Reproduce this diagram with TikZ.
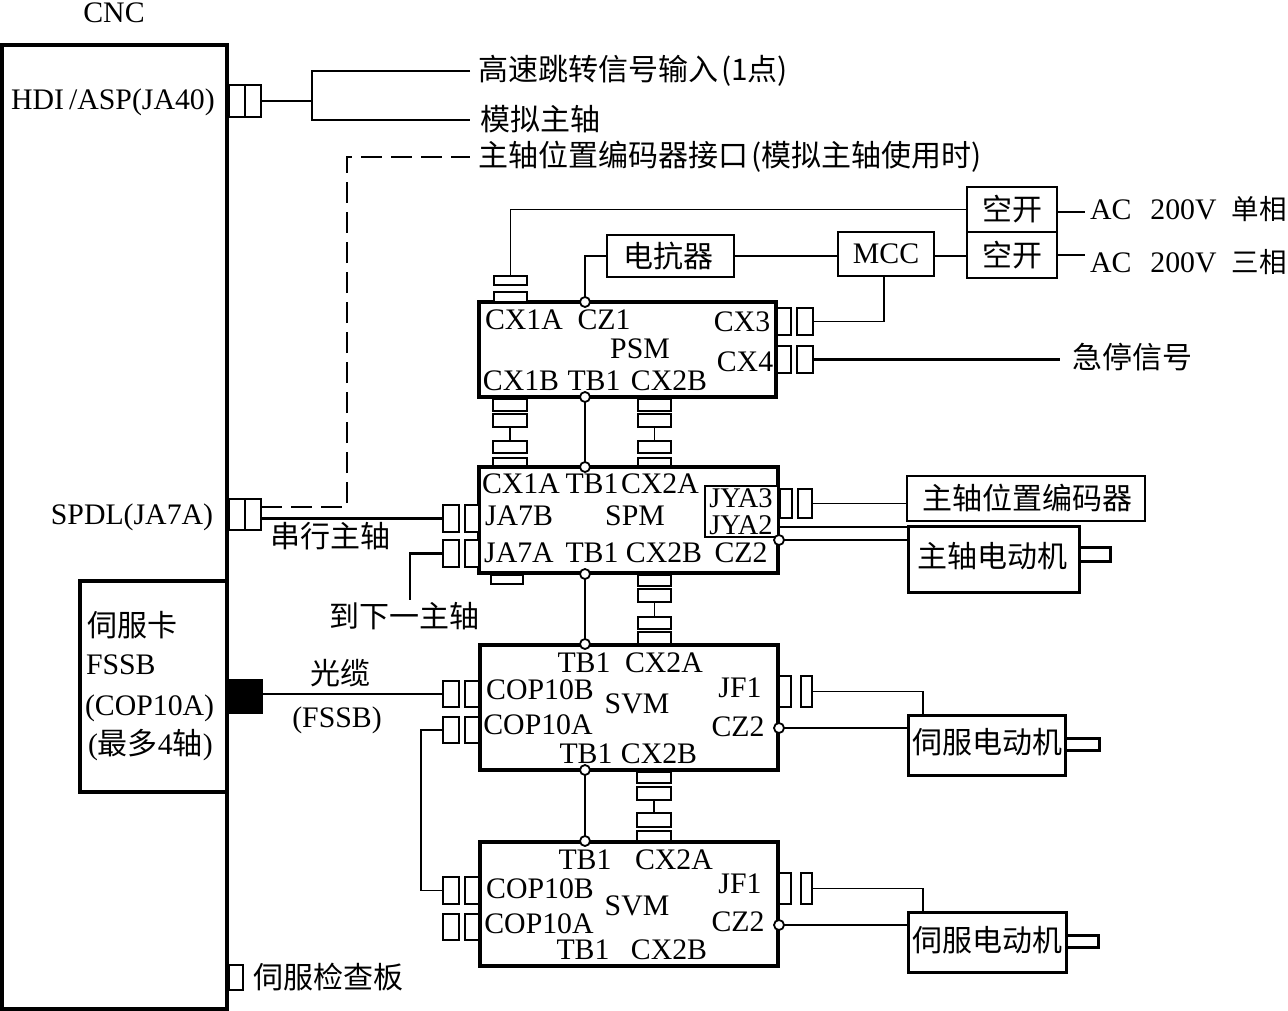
\documentclass[tikz,border=0pt]{standalone}
\usepackage{fontspec}
\setmainfont{Liberation Serif}
\newfontfamily\cjk{Noto Sans CJK SC}
\newcommand{\FS}{\fontsize{29.8}{31}\selectfont}
\newcommand{\CF}{\fontsize{30}{31}\selectfont\cjk}
\newcommand{\CS}{\fontsize{27.5}{30}\selectfont\cjk}
\newcommand{\Bx}[6][cell]{%
  \pgfmathsetmacro\bxw{#5-#3}\pgfmathsetmacro\bxh{#6-#4}%
  \pgfmathsetmacro\bxx{(#5+#3)/2}\pgfmathsetmacro\bxy{(#6+#4)/2}%
  \node[#1,minimum width=\bxw pt,minimum height=\bxh pt] (#2) at (\bxx,\bxy) {};}
\tikzset{
  base/.style={draw=black,inner sep=0pt,outer sep=0pt,rectangle},
  cell/.style={base,line width=1.9pt,fill=white},
  module/.style={base,line width=3.6pt},
  plain/.style={base,line width=2pt,fill=white},
  heavy/.style={base,line width=3pt,fill=white},
  solidblk/.style={base,line width=0pt,fill=black},
  wire/.style={line width=1.6pt},
  wirefat/.style={line width=2.4pt},
  dashwire/.style={line width=1.9pt,dash pattern=on 21pt off 9pt},
  term/.style={circle,draw=black,fill=white,line width=1.8pt,minimum size=10pt,inner sep=0pt,outer sep=0pt},
  txt/.style={inner sep=0pt,outer sep=0pt,font=\FS},
  ltxt/.style={txt,anchor=west},
  ctxt/.style={inner sep=0pt,outer sep=0pt,font=\CF},
  lctxt/.style={ctxt,anchor=west},
  jtxt/.style={inner sep=0pt,outer sep=0pt,font=\fontsize{28.5}{30}\selectfont},
}
\begin{document}
\begin{tikzpicture}[x=1pt,y=-1pt]
\clip (0,0) rectangle (1288,1011);
\fill[white] (0,0) rectangle (1288,1011);
% CNC
\Bx[module]{cnc}{2}{45}{227}{1009}
\Bx[module]{card}{80}{581}{227}{792}
\node[txt] (tcnc) at (114,13) {CNC};
\node[txt] (thdi) at (113,102) {HDI\,/ASP(JA40)};
\node[txt] (tspdl) at (132,517) {SPDL(JA7A)};
\node[lctxt] (tcard) at (87,625) {伺服卡};
\node[ltxt] (tfssb) at (86,665) {FSSB};
\node[ltxt] (tcop) at (85,708) {(COP10A)};
\node[ltxt] (tmax) at (88,745) {({\CF 最多}4{\CF 轴})};
% CNC ports
\Bx{hdia}{229}{85}{245}{117}
\Bx{hdib}{245}{85}{261}{117}
\Bx{spa}{229}{499}{245}{530}
\Bx{spb}{245}{499}{261}{530}
\Bx[solidblk]{fib}{228}{679}{262}{713}
\Bx{chk}{229}{965}{243}{990}
\node[lctxt] (tchk) at (253,977) {伺服检查板};
% upper left texts
\node[lctxt] (thigh) at (478,71) {高速跳转信号输入\hspace{3pt}({\FS 1}点)};
\node[lctxt] (tana) at (480,119) {模拟主轴};
\node[lctxt] (tpos) at (478,157) {主轴位置编码器接口\hspace{3pt}(模拟主轴使用时)};
\coordinate (jhdi) at (312,101);
\coordinate (ehigh) at (470,71);
\coordinate (eana) at (470,120);
\coordinate (epos) at (470,157);
\coordinate (jd) at (347,507);
\draw[wire] (hdib.east) -- (jhdi);
\draw[wire] (ehigh) -| (jhdi) |- (eana);
\draw[dashwire] (spb.east |- jd) -- (jd) -- (jd |- epos) -- (epos);
% Power section
\Bx[plain]{k1}{967}{187}{1057}{232}
\Bx[plain]{k2}{967}{232}{1057}{278}
\Bx[plain]{mcc}{838}{232}{934}{276}
\Bx[plain]{react}{607}{235}{734}{277}
\node[ctxt] at (k1) {空开};
\node[ctxt] at (k2) {空开};
\node[txt] at (886,254) {MCC};
\node[ctxt] at (668,256) {电抗器};
\node[ltxt] (tac1) at (1090,209) {AC\hspace{19pt}200V\hspace{15pt}{\CS 单相}};
\node[ltxt] (tac2) at (1090,262) {AC\hspace{19pt}200V\hspace{15pt}{\CS 三相}};
\coordinate (eac1) at (1085,212);
\coordinate (eac2) at (1085,255);
\coordinate (jp) at (800,256);
\draw[wire] (k1.east |- eac1) -- (eac1);
\draw[wire] (k2.east |- eac2) -- (eac2);
\draw[wire] (react.east |- jp) -- (mcc.west |- jp);
\draw[wire] (mcc.east |- jp) -- (k2.west |- jp);
% PSM
\Bx[module]{psm}{479}{302}{776}{397}
\node[txt] at (524,320) {CX1A};
\node[txt] at (604,320) {CZ1};
\node[txt] at (742,322) {CX3};
\node[txt] at (640,349) {PSM};
\node[txt] at (745,362) {CX4};
\node[txt] at (521,381) {CX1B};
\node[txt] at (594,381) {TB1};
\node[txt] at (669,381) {CX2B};
% PSM top connector
\Bx{pa1}{494}{292}{527}{302}
\Bx{pa2}{494}{276}{527}{285}
\draw[wire] (pa2.north) |- (k1.west);
% PSM right connectors
\Bx{cx3a}{777}{308}{791}{335}
\Bx{cx3b}{797}{308}{813}{335}
\Bx{cx4a}{777}{346}{791}{373}
\Bx{cx4b}{797}{346}{813}{373}
\draw[wire] (mcc.south -| 884,0) |- (cx3b.east);
\node[lctxt] (tstop) at (1072,357) {急停信号};
\coordinate (estop) at (1060,359.5);
\draw[wirefat] (cx4b.east) -- (estop);
% PSM-SPM stacks
\Bx{s1a}{493}{399}{527}{411}
\Bx{s1b}{493}{414}{527}{427}
\Bx{s1c}{493}{441}{527}{453}
\Bx{s1d}{493}{458}{527}{467}
\draw[wire] (s1b.south) -- (s1c.north);
\Bx{s2a}{638}{399}{671}{411}
\Bx{s2b}{638}{414}{671}{427}
\Bx{s2c}{638}{441}{671}{453}
\Bx{s2d}{638}{458}{671}{467}
\draw[wire] (s2b.south) -- (s2c.north);
% SPM
\Bx[module]{spm}{479}{467}{778}{573}
\Bx[plain]{jya}{705}{486}{778}{537}
\node[txt] at (521,484) {CX1A};
\node[txt] at (592,484) {TB1};
\node[txt] at (660,484) {CX2A};
\node[jtxt] at (741,498) {JYA3};
\node[jtxt] at (741,525) {JYA2};
\node[txt] at (519,516) {JA7B};
\node[txt] at (635,516) {SPM};
\node[txt] at (519,553) {JA7A};
\node[txt] at (592,553) {TB1};
\node[txt] at (664,553) {CX2B};
\node[txt] at (741,553) {CZ2};
% SPM left connectors
\Bx{ja1}{443}{505}{459}{532}
\Bx{ja2}{465}{505}{479}{532}
\Bx{jb1}{443}{540}{459}{567}
\Bx{jb2}{465}{540}{479}{567}
\draw[wirefat] (spb.east |- ja1.west) -- (ja1.west);
\node[ctxt] (tser) at (330,536) {串行主轴};
\node[ctxt] (tnext) at (404,616) {到下一主轴};
\coordinate (enext) at (410,600);
\draw[wirefat] (jb1.west) -| (enext);
% SPM right
\Bx{jy1}{780}{489}{792}{518}
\Bx{jy2}{798}{489}{812}{518}
\Bx[plain]{enc}{907}{476}{1145}{521}
\node[ctxt] at (1027,498) {主轴位置编码器};
\Bx[heavy]{smot}{908}{526}{1079}{592}
\Bx[heavy]{sshaft}{1079}{547}{1110}{561}
\node[ctxt] at (992,556) {主轴电动机};
\draw[wire] (jy2.east) -- (jy2.east -| enc.west);
\coordinate (s27) at (778,527);
\draw[wire] (s27) -- (s27 -| enc.west);
% bottom of SPM
\Bx{sb0}{491}{575}{523}{584}
\Bx{s3a}{638}{575}{671}{586}
\Bx{s3b}{638}{589}{671}{602}
\Bx{s3c}{638}{617}{671}{629}
\Bx{s3d}{638}{632}{671}{645}
\draw[wire] (s3b.south) -- (s3c.north);
% SVM 1
\Bx[module]{sv1}{480}{645}{778}{770}
\node[txt] at (584,663) {TB1};
\node[txt] at (664,663) {CX2A};
\node[txt] at (540,690) {COP10B};
\node[txt] at (740,688) {JF1};
\node[txt] at (637,704) {SVM};
\node[txt] at (738,727) {CZ2};
\node[txt] at (538,725) {COP10A};
\node[txt] at (586,754) {TB1};
\node[txt] at (659,754) {CX2B};
\Bx{c1a}{443}{681}{459}{707}
\Bx{c1b}{465}{681}{479}{707}
\Bx{c2a}{443}{717}{459}{743}
\Bx{c2b}{465}{717}{479}{743}
\draw[wire] (fib.east |- c1a.west) -- (c1a.west);
\node[ctxt] (tfib) at (340,673) {光缆};
\node[txt] (tfs) at (337,720) {(FSSB)};
\Bx{f1a}{779}{676}{791}{707}
\Bx{f1b}{801}{676}{812}{707}
\Bx[heavy]{m1}{908}{715}{1065}{775}
\Bx[heavy]{sh1}{1065}{738}{1099}{750}
\node[ctxt] at (987,742) {伺服电动机};
\coordinate (j1) at (923,715);
\draw[wire] (f1b.east) -| (j1);
% SVM-SVM stack
\Bx{s4a}{637}{772}{671}{783}
\Bx{s4b}{637}{787}{671}{800}
\Bx{s4c}{637}{813}{671}{827}
\Bx{s4d}{637}{831}{671}{841}
\draw[wire] (s4b.south) -- (s4c.north);
% SVM 2
\Bx[module]{sv2}{480}{842}{778}{966}
\node[txt] at (585,860) {TB1};
\node[txt] at (674,860) {CX2A};
\node[txt] at (540,889) {COP10B};
\node[txt] at (740,884) {JF1};
\node[txt] at (637,906) {SVM};
\node[txt] at (738,922) {CZ2};
\node[txt] at (539,924) {COP10A};
\node[txt] at (583,950) {TB1};
\node[txt] at (669,950) {CX2B};
\Bx{c3a}{443}{877}{459}{904}
\Bx{c3b}{465}{877}{479}{904}
\Bx{c4a}{443}{914}{459}{940}
\Bx{c4b}{465}{914}{479}{940}
\coordinate (jc) at (421,800);
\draw[wire] (c2a.west) -| (jc) |- (c3a.west);
\Bx{f2a}{779}{873}{791}{904}
\Bx{f2b}{801}{873}{812}{904}
\Bx[heavy]{m2}{908}{912}{1066}{972}
\Bx[heavy]{sh2}{1066}{935}{1098}{947}
\node[ctxt] at (987,940) {伺服电动机};
\coordinate (j2) at (923,912);
\draw[wire] (f2b.east) -| (j2);
% terminals
\node[term] (tcz1) at (585,302) {};
\node[term] (tpb) at (585,397) {};
\node[term] (tst) at (585,467) {};
\node[term] (tsb) at (585,574) {};
\node[term] (tscz) at (779,540) {};
\node[term] (tv1t) at (585,644) {};
\node[term] (tv1b) at (585,770) {};
\node[term] (tv1c) at (779,728) {};
\node[term] (tv2t) at (585,841) {};
\node[term] (tv2c) at (779,925) {};
\draw[wire] (tcz1) |- (react.west);
\draw[wirefat] (tpb) -- (tst);
\draw[wirefat] (tsb) -- (tv1t);
\draw[wirefat] (tv1b) -- (tv2t);
\draw[wire] (tscz) -- (tscz -| smot.west);
\draw[wire] (tv1c) -- (tv1c -| m1.west);
\draw[wire] (tv2c) -- (tv2c -| m2.west);
\end{tikzpicture}
\end{document}
